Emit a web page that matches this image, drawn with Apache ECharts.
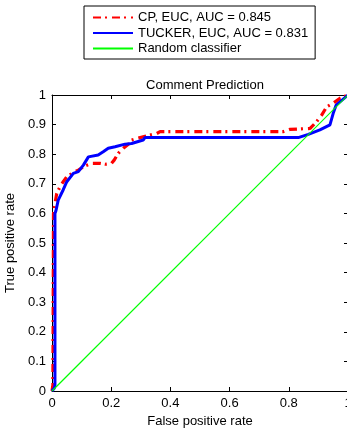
<!DOCTYPE html>
<html>
<head>
<meta charset="utf-8">
<script src="https://cdn.jsdelivr.net/npm/echarts@6/dist/echarts.min.js"></script>
<style>
html,body{margin:0;padding:0;background:#fff;}
#chart{width:347px;height:429px;}
</style>
</head>
<body>
<div id="chart"></div>
<script>
var title = 'Comment Prediction';
var seriesNames = ['CP, EUC, AUC = 0.845', 'TUCKER, EUC, AUC = 0.831', 'Random classifier'];
var xTicks = [0, 0.2, 0.4, 0.6, 0.8, 1];
var yTicks = [0, 0.1, 0.2, 0.3, 0.4, 0.5, 0.6, 0.7, 0.8, 0.9, 1];

var cpFpr = [0, 0.003, 0.004, 0.005, 0.008, 0.016, 0.027, 0.038, 0.05, 0.078, 0.089, 0.11, 0.134, 0.162, 0.18, 0.2, 0.21, 0.224, 0.241, 0.26, 0.269, 0.308, 0.354, 0.365, 0.78, 0.804, 0.872, 0.894, 0.911, 0.928, 0.95, 0.973, 1];
var cpTpr = [0, 0.02, 0.3, 0.6, 0.622, 0.667, 0.69, 0.707, 0.724, 0.741, 0.746, 0.76, 0.769, 0.769, 0.766, 0.768, 0.78, 0.803, 0.82, 0.835, 0.848, 0.859, 0.87, 0.876, 0.876, 0.884, 0.887, 0.91, 0.932, 0.96, 0.972, 0.989, 1];

var tuckerFpr = [0, 0.008, 0.01, 0.01, 0.0135, 0.021, 0.038, 0.05, 0.072, 0.089, 0.106, 0.123, 0.156, 0.173, 0.19, 0.213, 0.247, 0.269, 0.308, 0.314, 0.832, 0.866, 0.905, 0.939, 0.95, 0.96, 1];
var tuckerTpr = [0, 0.01, 0.02, 0.6, 0.61, 0.645, 0.68, 0.707, 0.735, 0.741, 0.763, 0.791, 0.797, 0.808, 0.82, 0.825, 0.834, 0.836, 0.848, 0.856, 0.856, 0.867, 0.882, 0.899, 0.938, 0.966, 1];

var randFpr = [0, 1];
var randTpr = [0, 1];

function pairs(xs, ys){ return xs.map(function(x,i){ return [x, ys[i]]; }); }

var font = "'Liberation Sans', Arial, Helvetica, sans-serif";
var chart = echarts.init(document.getElementById('chart'), null, {renderer:'canvas'});
var axisCommon = {
  type: 'value', min: 0, max: 1,
  axisLine: {show: true, onZero: false, lineStyle: {color: '#000', width: 1}},
  axisTick: {show: true, inside: true, length: 4, lineStyle: {color: '#000'}},
  splitLine: {show: false}
};
chart.setOption({
  animation: false,
  backgroundColor: '#fff',
  textStyle: {fontFamily: font},
  title: {
    text: title, left: 200, top: 74, textAlign: 'center',
    textStyle: {fontSize: 13, fontWeight: 'normal', color: '#000', fontFamily: font}
  },
  legend: {
    orient: 'vertical', left: 84, top: 6,
    borderColor: '#000', borderWidth: 1, backgroundColor: '#fff',
    padding: [5, 7, 4, 8],
    itemWidth: 40, itemHeight: 14, itemGap: 2.5,
    itemStyle: {opacity: 0},
    textStyle: {fontSize: 13, color: '#000', fontFamily: font},
    data: seriesNames
  },
  grid: {left: 52, top: 95, width: 296, height: 296, containLabel: false, outerBoundsMode: 'none'},
  xAxis: [
    Object.assign({}, axisCommon, {
      position: 'bottom', interval: 0.2,
      name: 'False positive rate', nameLocation: 'middle', nameGap: 18,
      nameTextStyle: {fontSize: 13, color: '#000', fontFamily: font},
      axisLabel: {show: true, margin: 6, fontSize: 13, color: '#000', fontFamily: font,
        formatter: function(v){ return xTicks.indexOf(Math.round(v*10)/10) >= 0 ? String(Math.round(v*10)/10) : ''; }}
    }),
    Object.assign({}, axisCommon, {position: 'top', interval: 0.2, axisLabel: {show: false}})
  ],
  yAxis: [
    Object.assign({}, axisCommon, {
      position: 'left', interval: 0.1,
      name: 'True positive rate', nameLocation: 'middle', nameGap: 31,
      nameTextStyle: {fontSize: 13, color: '#000', fontFamily: font},
      axisLabel: {show: true, margin: 6, fontSize: 13, color: '#000', fontFamily: font,
        formatter: function(v){ return String(Math.round(v*10)/10); }}
    }),
    Object.assign({}, axisCommon, {position: 'right', interval: 0.1, axisLabel: {show: false}})
  ],
  series: [
    {
      name: seriesNames[0], type: 'line', data: pairs(cpFpr, cpTpr),
      symbol: 'none', smooth: false,
      lineStyle: {color: '#ff0000', width: 3.2, type: [8, 4, 2, 5], cap: 'butt'},
      itemStyle: {color: '#ff0000'}
    },
    {
      name: seriesNames[1], type: 'line', data: pairs(tuckerFpr, tuckerTpr),
      symbol: 'none', smooth: false,
      lineStyle: {color: '#0000ff', width: 3},
      itemStyle: {color: '#0000ff'}
    },
    {
      name: seriesNames[2], type: 'line', data: pairs(randFpr, randTpr),
      symbol: 'none', smooth: false,
      lineStyle: {color: '#00ff00', width: 1.2},
      itemStyle: {color: '#00ff00'}
    }
  ]
});
</script>
</body>
</html>
